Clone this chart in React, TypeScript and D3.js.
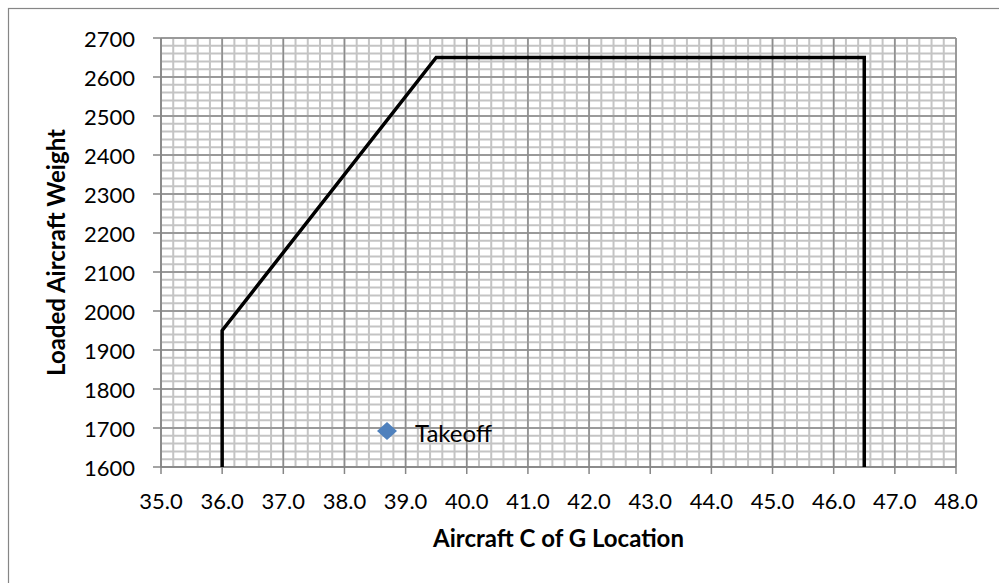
import * as d3 from "d3";

// envelope corners (C of G, weight)
const cgLimits = [36.0, 36.0, 39.5, 46.5, 46.5];
const weightLimits = [1600, 1950, 2650, 2650, 1600];

// legend series
const legendNames = ["Takeoff"];
const legendColors = ["#4F81BD"];

const xTickValues = [35, 36, 37, 38, 39, 40, 41, 42, 43, 44, 45, 46, 47, 48];
const yTickValues = [1600, 1700, 1800, 1900, 2000, 2100, 2200, 2300, 2400, 2500, 2600, 2700];

const xTitle = "Aircraft C of G Location";
const yTitle = "Loaded Aircraft Weight";

const W = 999;
const H = 583;
const margin = { left: 161, right: 43, top: 38, bottom: 116 };
const font = "Lato, 'Open Sans', sans-serif";

const App = () => {
  const x = d3
    .scaleLinear()
    .domain([35, 48])
    .range([margin.left, W - margin.right]);
  const y = d3
    .scaleLinear()
    .domain([1600, 2700])
    .range([H - margin.bottom, margin.top]);

  const fmt = d3.format(".1f");
  const minorX = d3.range(35, 48.001, 0.2);
  const minorY = d3.range(1600, 2700.001, 20);

  const line = d3
    .line<number>()
    .x((d) => x(d))
    .y((d, i) => y(weightLimits[i]));

  const [x0, x1] = x.range();
  const [y0, y1] = y.range();

  return (
    <svg width={W} height={H} style={{ position: "absolute", left: 0, top: 0 }}>
      <rect x={0} y={0} width={W} height={H} fill="#fff" />
      <rect x={8.5} y={8.5} width={W + 20} height={H + 20} fill="none" stroke="#868686" strokeWidth={1.2} />

      {/* minor grid */}
      <g stroke="#c4c4c4" strokeWidth={2}>
        {minorX.map((v, i) => (
          <line key={"mx" + i} x1={x(v)} x2={x(v)} y1={y1} y2={y0} />
        ))}
        {minorY.map((v, i) => (
          <line key={"my" + i} x1={x0} x2={x1} y1={y(v)} y2={y(v)} />
        ))}
      </g>
      {/* major grid */}
      <g stroke="#8c8c8c" strokeWidth={1.5}>
        {xTickValues.map((v) => (
          <line key={"gx" + v} x1={x(v)} x2={x(v)} y1={y1} y2={y0} />
        ))}
        {yTickValues.map((v) => (
          <line key={"gy" + v} x1={x0} x2={x1} y1={y(v)} y2={y(v)} />
        ))}
      </g>

      {/* axes + ticks */}
      <g stroke="#868686" strokeWidth={1.5}>
        <line x1={x0} x2={x1} y1={y0} y2={y0} />
        <line x1={x0} x2={x0} y1={y0} y2={y1} />
        {xTickValues.map((v) => (
          <line key={"tx" + v} x1={x(v)} x2={x(v)} y1={y0} y2={y0 + 7} />
        ))}
        {yTickValues.map((v) => (
          <line key={"ty" + v} x1={x0 - 8} x2={x0} y1={y(v)} y2={y(v)} />
        ))}
      </g>

      <g fontFamily={font} fontSize={22} fill="#000">
        {xTickValues.map((v) => (
          <text key={"lx" + v} x={x(v)} y={y0 + 42} textAnchor="middle">
            {fmt(v)}
          </text>
        ))}
        {yTickValues.map((v) => (
          <text key={"ly" + v} x={x0 - 26} y={y(v)} textAnchor="end" dominantBaseline="central">
            {v}
          </text>
        ))}
      </g>

      <path
        d={line(cgLimits) ?? ""}
        fill="none"
        stroke="#000"
        strokeWidth={3.5}
        strokeLinejoin="miter"
      />

      {/* legend */}
      {legendNames.map((name, i) => (
        <g key={name} transform={`translate(387,431)`}>
          <path d="M0,-9L10,0L0,9L-10,0Z" fill={legendColors[i]} />
          <text x={28} y={1} fontFamily={font} fontSize={24} dominantBaseline="central">
            {name}
          </text>
        </g>
      ))}

      <text
        x={(x0 + x1) / 2}
        y={547}
        textAnchor="middle"
        fontFamily={font}
        fontWeight="bold"
        fontSize={24}
      >
        {xTitle}
      </text>
      <text
        transform={`translate(65,${(y0 + y1) / 2}) rotate(-90)`}
        textAnchor="middle"
        fontFamily={font}
        fontWeight="bold"
        fontSize={24}
      >
        {yTitle}
      </text>
    </svg>
  );
};

export default App;
